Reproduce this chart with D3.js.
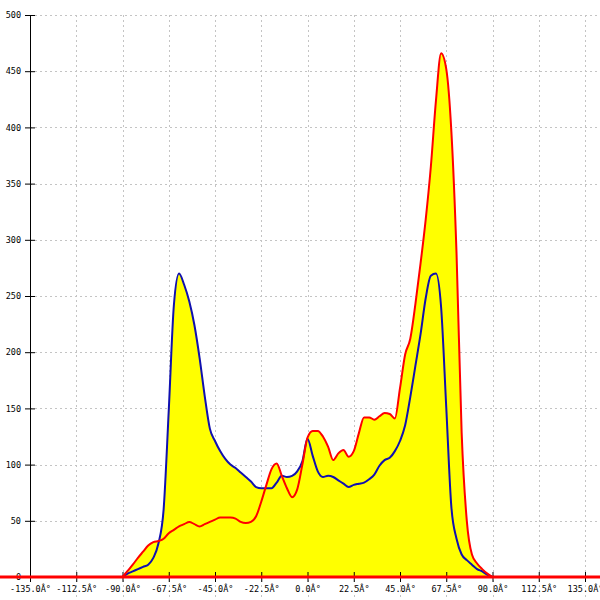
<!DOCTYPE html>
<html>
<head>
<meta charset="utf-8">
<script src="https://cdn.jsdelivr.net/npm/d3@7"></script>
<style>
  html, body { margin: 0; padding: 0; background: #fff; }
  svg { display: block; }
  text { font-family: "DejaVu Sans Mono", monospace; font-size: 8.5px; fill: #000; }
</style>
</head>
<body>
<svg id="chart" width="600" height="600"></svg>
<script>
const angles = [-90,-87.5,-85,-82.5,-80,-77.5,-75,-72.5,-70,-67.5,-65,-62.5,-60,-57.5,-55,-52.5,-50,-47.5,-45,-42.5,-40,-37.5,-35,-32.5,-30,-27.5,-25,-22.5,-20,-17.5,-15,-12.5,-10,-7.5,-5,-2.5,0,2.5,5,7.5,10,12.5,15,17.5,20,22.5,25,27.5,30,32.5,35,37.5,40,42.5,45,47.5,50,52.5,55,57.5,60,62.5,65,67.5,70,72.5,75,77.5,80,82.5,85,87.5,90];

const blueValues = [0,3,5,7,9,11,17,30,60,148,242,270,260,245,224,195,161,132,121,112,105,100,97,93,89,85,80,79,79,79,84,90,89,90,94,103,123,108,94,89,90,89,86,83,80,82,83,84,87,91,99,104,106,112,121,135,160,188,216,248,268,270,240,151,62,34,20,15,11,7,5,2,0];

const redValues = [0,5.5,11,17,22.5,28,31,32,34,39,42,45,47,49,47,45,47,49,51,53,53,53,52,49,48,49,54,67,82,96,101,90,79,71,78,100,124,130,130,125,116,104,110,113,107,112,128,142,142,140,143,146,145,141,168,198,212,243,279,318,365,424,466,452,396,288,128,50,20,12,7,3,0];

const xTickValues = [-135,-112.5,-90,-67.5,-45,-22.5,0,22.5,45,67.5,90,112.5,135];
const xTickLabels = ["-135.0Â°","-112.5Â°","-90.0Â°","-67.5Â°","-45.0Â°","-22.5Â°","0.0Â°","22.5Â°","45.0Â°","67.5Â°","90.0Â°","112.5Â°","135.0Â°"];
const yTickValues = [0,50,100,150,200,250,300,350,400,450,500];
const yTickLabels = ["0","50","100","150","200","250","300","350","400","450","500"];

const svg = d3.select("#chart");
const W = 600, H = 600;
const x = d3.scaleLinear().domain([-135, 135]).range([30, 585]);
const y = d3.scaleLinear().domain([0, 500]).range([577, 15]);

const blue = angles.map((a, i) => ({a, v: blueValues[i]}));
const red = angles.map((a, i) => ({a, v: redValues[i]}));

// grid
const grid = svg.append("g").attr("stroke", "#c4c4c4").attr("stroke-dasharray", "2,3").attr("stroke-width", 1);
grid.selectAll("line.v").data(xTickValues.filter(d => d !== -135)).enter().append("line")
  .attr("x1", d => Math.round(x(d)) + 0.5).attr("x2", d => Math.round(x(d)) + 0.5)
  .attr("y1", y(500)).attr("y2", H);
grid.selectAll("line.h").data(yTickValues.filter(d => d !== 0)).enter().append("line")
  .attr("y1", d => Math.round(y(d)) + 0.5).attr("y2", d => Math.round(y(d)) + 0.5)
  .attr("x1", x(-135)).attr("x2", W);

// areas
const area = d3.area().x(d => x(d.a)).y0(y(0)).y1(d => y(d.v)).curve(d3.curveMonotoneX);
svg.append("path").datum(red).attr("d", area).attr("fill", "#ffff00");
svg.append("path").datum(blue).attr("d", area).attr("fill", "#ffff00");

// axes
const xAxis = d3.axisBottom(x).tickValues(xTickValues).tickFormat((d, i) => xTickLabels[i]).tickSizeInner(5).tickSizeOuter(0).tickPadding(4);
const gx = svg.append("g").attr("transform", `translate(0,${y(0)})`).call(xAxis);
gx.select(".domain").remove();
gx.selectAll(".tick line").attr("y1", -5).attr("y2", 5).attr("stroke", "#000");
gx.selectAll(".tick text").attr("font-family", "DejaVu Sans Mono").attr("font-size", "8.5px");

const yAxis = d3.axisLeft(y).tickValues(yTickValues).tickFormat((d, i) => yTickLabels[i]).tickSizeInner(5).tickSizeOuter(0).tickPadding(4);
const gy = svg.append("g").attr("transform", `translate(${x(-135)},0)`).call(yAxis);
gy.select(".domain").attr("stroke", "#000");
gy.selectAll(".tick line").attr("x1", -5).attr("x2", 5).attr("stroke", "#000");
gy.selectAll(".tick text").attr("font-family", "DejaVu Sans Mono").attr("font-size", "8.5px").attr("x", -9);

// lines
const line = d3.line().x(d => x(d.a)).y(d => y(d.v)).curve(d3.curveMonotoneX);
svg.append("path").datum(blue).attr("d", line).attr("fill", "none").attr("stroke", "#1010b0").attr("stroke-width", 2);
svg.append("line").attr("x1", 0).attr("x2", W).attr("y1", y(0)).attr("y2", y(0)).attr("stroke", "#ff0000").attr("stroke-width", 3);
svg.append("path").datum(red).attr("d", line).attr("fill", "none").attr("stroke", "#ff0000").attr("stroke-width", 2);
</script>
</body>
</html>
